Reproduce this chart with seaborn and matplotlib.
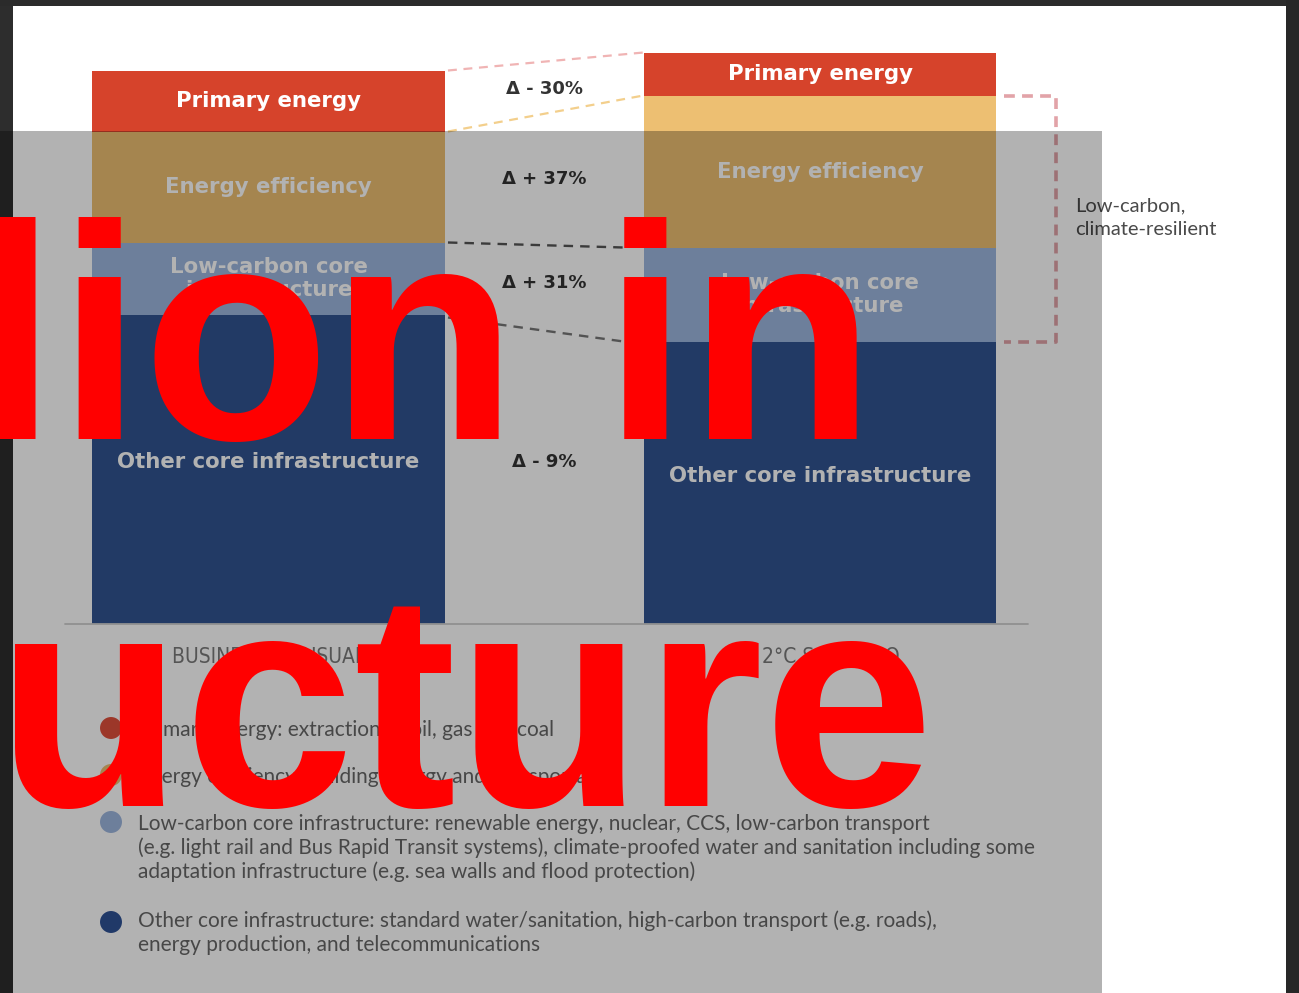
import numpy as np
import matplotlib
matplotlib.use("Agg")
import matplotlib.pyplot as plt
from matplotlib.patches import Rectangle
import seaborn as sns

# ---------------------------------------------------------------- data
scenarios = ["BUSINESS AS USUAL", "2°C SCENARIO"]
segment_labels = ["Primary energy", "Energy efficiency",
                  "Low-carbon core\ninfrastructure", "Other core infrastructure"]
# segment sizes, top of the stack first
bau_values = [61, 111, 72, 309]
scenario_values = [43, 152, 94, 282]

legend_entries = [
    ["Primary energy: extraction of oil, gas and coal"],
    ["Energy efficiency: building energy and transportation"],
    ["Low-carbon core infrastructure: renewable energy, nuclear, CCS, low-carbon transport",
     "(e.g. light rail and Bus Rapid Transit systems), climate-proofed water and sanitation including some",
     "adaptation infrastructure (e.g. sea walls and flood protection)"],
    ["Other core infrastructure: standard water/sanitation, high-carbon transport (e.g. roads),",
     "energy production, and telecommunications"],
]
bracket_label = "Low-carbon,\nclimate-resilient"
headline_lines = ["lion in", "ucture"]

seg_colors = ["#d6432b", "#edbf72", "#9db6de", "#315492"]
legend_colors = ["#e0503c", "#edbf72", "#9db6de", "#2f5296"]
connector_colors = ["#f0b4b4", "#f3cf8c", "#555555", "#777777"]

# ---------------------------------------------------------------- canvas
W, H = 1299, 993
sns.set_theme(style="white")
plt.rcParams["font.family"] = ["DejaVu Sans"]

fig = plt.figure(figsize=(W / 100, H / 100), dpi=100)
fig.patch.set_facecolor("white")
ax = fig.add_axes([0, 0, 1, 1])

# one data unit on y is one pixel; categories are 551.5 px apart
X0, XU, BASE = 268.5, 551.5, 623.5
BAR_W = 0.64


def px(x):
    return (x - X0) / XU


def py(y):
    return BASE - y


def fx(x):
    return x / W


def fy(y):
    return 1 - y / H


stack = np.array([bau_values, scenario_values], dtype=float)

# stacked bars: draw cumulative totals from the top layer down
for i, col in enumerate(seg_colors):
    heights = stack[:, i:].sum(axis=1)
    sns.barplot(x=scenarios, y=heights, order=scenarios, color=col,
                width=BAR_W, saturation=1, linewidth=0, errorbar=None, ax=ax)

ax.set_xlim(-X0 / XU, (W - X0) / XU)
ax.set_ylim(BASE - H, BASE)
ax.set_axis_off()

# baseline
ax.axhline(0, xmin=65 / W, xmax=1028 / W, color="#cfcfcf", lw=1.3, zorder=1)

# labels inside segments
for j in range(2):
    for i, lab in enumerate(segment_labels):
        top = stack[j, i:].sum()
        bottom = stack[j, i + 1:].sum()
        yc = (top + bottom) / 2 + (7 if i == 3 else 0)
        ax.text(j, yc, lab, ha="center", va="center", color="white",
                fontsize=15.3, fontweight="bold", linespacing=1.2, zorder=4)

# dashed connectors between the two stacks
right1 = BAR_W / 2
left2 = 1 - BAR_W / 2
for i in range(4):
    y0 = stack[0, i:].sum()
    y1 = stack[1, i:].sum()
    x_end = left2 if i < 2 else left2 - 20 / XU
    lw = 1.6 if i < 2 else 1.7
    ax.plot([right1 + 3 / XU, x_end], [y0 - (0 if i < 3 else 3), y1],
            color=connector_colors[i], lw=lw, dashes=(4, 3), zorder=2)

# relative change labels
delta_nudge = [-2, 0, 4, 14]
for i in range(4):
    b, s = stack[0, i], stack[1, i]
    pct = int(round((s / b - 1) * 100))
    sign = "+" if pct > 0 else "-"
    yc0 = (stack[0, i:].sum() + stack[0, i + 1:].sum()) / 2
    yc1 = (stack[1, i:].sum() + stack[1, i + 1:].sum()) / 2
    ax.text(0.5, (yc0 + yc1) / 2 + delta_nudge[i], f"Δ {sign} {abs(pct)}%",
            ha="center", va="center", color="#333333", fontsize=13,
            fontweight="bold", zorder=4)

# bracket around the low-carbon part of the 2°C stack
right2 = 1 + BAR_W / 2
xa, xb = right2 + 8 / XU, right2 + 60 / XU
y_top = stack[1, 1:].sum()
y_bot = stack[1, 3:].sum()
ax.plot([xa, xb, xb, xa], [y_top, y_top, y_bot, y_bot], color="#e2a3a8",
        lw=2.6, dashes=(3, 2), solid_joinstyle="miter", zorder=2)
ax.text(xb + 19 / XU, (y_top + y_bot) / 2 + 1, bracket_label, ha="left",
        va="center", color="#4a4a4a", fontsize=14.5, family=["Lato", "DejaVu Sans"],
        linespacing=1.45, zorder=4)

# category names under the bars
for j, name in enumerate(scenarios):
    ax.text(j + (0.02 if j == 1 else 0), py(657), name, ha="center", va="center",
            color="#7a7a7a", fontsize=15, fontstretch="condensed",
            family=["Liberation Sans Narrow", "DejaVu Sans"], zorder=4)

# legend
circle_y = [728, 775, 822, 922]
first_line_y = [728, 775, 822, 919]
ax.scatter([px(111)] * 4, [py(v) for v in circle_y], s=250, c=legend_colors,
           linewidths=0, zorder=4)
for lines, y0 in zip(legend_entries, first_line_y):
    for k, line in enumerate(lines):
        ax.text(px(138), py(y0 + k * 23.7), line, ha="left", va="center_baseline",
                color="#676767", fontsize=15, family=["Lato", "DejaVu Sans"], zorder=4)

# dark frame
for (x, y, w, h, c) in [(0, 0, 13, H, "#2d2d2d"), (0, 0, W, 6, "#2b2b2b"),
                        (1286, 0, 13, H, "#272727")]:
    fig.add_artist(Rectangle((fx(x), fy(y + h)), w / W, h / H, transform=fig.transFigure,
                             facecolor=c, lw=0, zorder=3))

# translucent grey veil
fig.add_artist(Rectangle((0, 0), 1102 / W, (H - 131) / H, transform=fig.transFigure,
                         facecolor="black", alpha=0.3, lw=0, zorder=5))

# headline fragments
fig.text(fx(-28), fy(439), headline_lines[0], ha="left", va="baseline",
         color="#ff0000", fontsize=221, fontweight="bold",
         family=["Liberation Sans", "DejaVu Sans"], zorder=10)
fig.text(fx(-4), fy(806), headline_lines[1], ha="left", va="baseline",
         color="#ff0000", fontsize=221, fontweight="bold",
         family=["Liberation Sans", "DejaVu Sans"], zorder=10)

fig.savefig("out.png", dpi=100)
